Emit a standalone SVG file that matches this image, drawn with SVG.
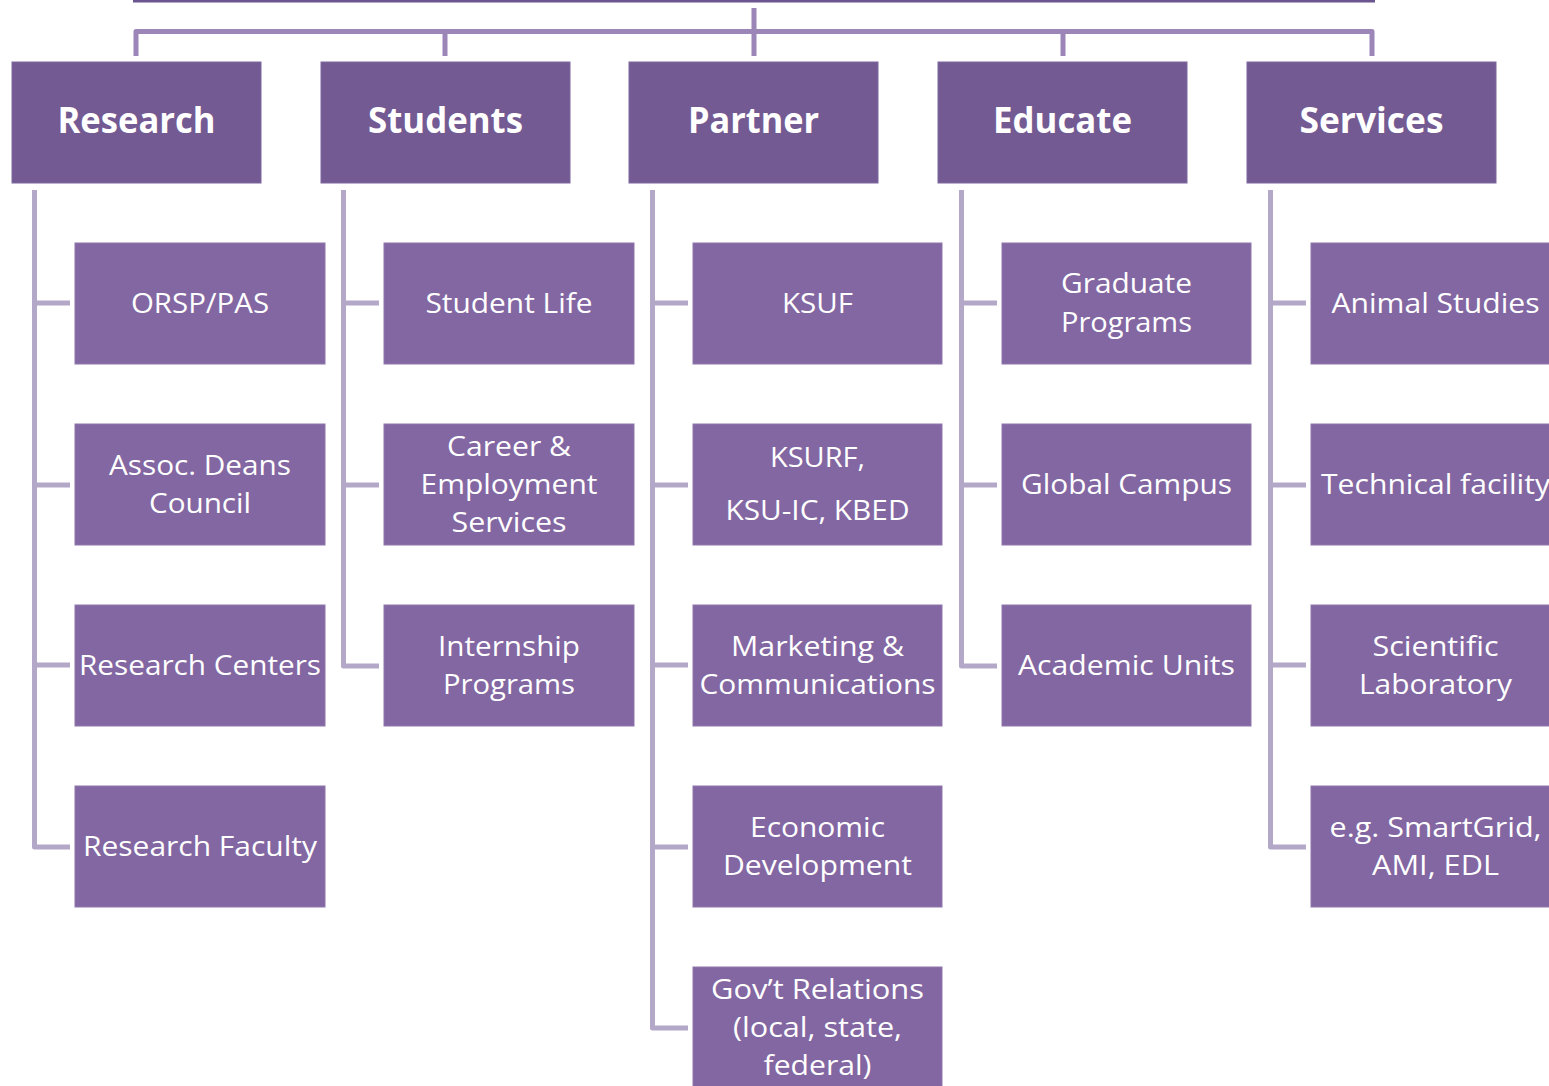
<svg xmlns="http://www.w3.org/2000/svg" width="1549" height="1086" viewBox="0 0 1549 1086">
<style>
.hdr{fill:#735A93;stroke:#7E68A0;stroke-width:1}
.chd{fill:#8367A2;stroke:#8F76AC;stroke-width:1}
.ht{font-family:"Open Sans","Noto Sans",sans-serif;font-weight:bold;font-size:36px;fill:#fff;text-anchor:middle}
.ct{font-family:"Open Sans","Noto Sans",sans-serif;font-size:27px;fill:#fff;text-anchor:middle}
.top{fill:none;stroke:#9B86B7;stroke-width:5;stroke-linejoin:round}
.sub{fill:none;stroke:#B3A8C8;stroke-width:5;stroke-linejoin:round}
</style>
<rect x="133" y="0" width="1242" height="2.5" fill="#6B5590"/>
<g id="connectors">
<path class="top" d="M136 56 V31.5 H1372 V56"/>
<path class="top" d="M754 8 V56 M445 31.5 V56 M1063 31.5 V56"/>
<path class="sub" d="M34.5 190 V847 H70 M34.5 303 H70 M34.5 485 H70 M34.5 665 H70"/>
<path class="sub" d="M343.5 190 V666 H379 M343.5 303 H379 M343.5 485 H379"/>
<path class="sub" d="M652.5 190 V1028 H688 M652.5 303 H688 M652.5 485 H688 M652.5 665 H688 M652.5 847 H688"/>
<path class="sub" d="M961.5 190 V666 H997 M961.5 303 H997 M961.5 485 H997"/>
<path class="sub" d="M1270.5 190 V847 H1306 M1270.5 303 H1306 M1270.5 485 H1306 M1270.5 665 H1306"/>
</g>
<g id="research"><rect class="hdr" x="12" y="62" width="249" height="121"/><text class="ht" x="136.5" y="133" textLength="158" lengthAdjust="spacingAndGlyphs">Research</text></g>
<g id="students"><rect class="hdr" x="321" y="62" width="249" height="121"/><text class="ht" x="445.5" y="133" textLength="155" lengthAdjust="spacingAndGlyphs">Students</text></g>
<g id="partner"><rect class="hdr" x="629" y="62" width="249" height="121"/><text class="ht" x="753.5" y="133" textLength="131" lengthAdjust="spacingAndGlyphs">Partner</text></g>
<g id="educate"><rect class="hdr" x="938" y="62" width="249" height="121"/><text class="ht" x="1062.5" y="133" textLength="139" lengthAdjust="spacingAndGlyphs">Educate</text></g>
<g id="services"><rect class="hdr" x="1247" y="62" width="249" height="121"/><text class="ht" x="1371.5" y="133" textLength="144" lengthAdjust="spacingAndGlyphs">Services</text></g>

<g id="orsp"><rect class="chd" x="75" y="243" width="250" height="121"/><text class="ct" x="200" y="313" textLength="138" lengthAdjust="spacingAndGlyphs">ORSP/PAS</text></g>
<g id="assoc"><rect class="chd" x="75" y="424" width="250" height="121"/><text class="ct" x="200" y="475" textLength="182" lengthAdjust="spacingAndGlyphs">Assoc. Deans</text><text class="ct" x="200" y="513" textLength="102" lengthAdjust="spacingAndGlyphs">Council</text></g>
<g id="rcenters"><rect class="chd" x="75" y="605" width="250" height="121"/><text class="ct" x="200" y="675" textLength="242" lengthAdjust="spacingAndGlyphs">Research Centers</text></g>
<g id="rfaculty"><rect class="chd" x="75" y="786" width="250" height="121"/><text class="ct" x="200" y="856" textLength="234" lengthAdjust="spacingAndGlyphs">Research Faculty</text></g>

<g id="slife"><rect class="chd" x="384" y="243" width="250" height="121"/><text class="ct" x="509" y="313" textLength="167" lengthAdjust="spacingAndGlyphs">Student Life</text></g>
<g id="career"><rect class="chd" x="384" y="424" width="250" height="121"/><text class="ct" x="509" y="456" textLength="124" lengthAdjust="spacingAndGlyphs">Career &amp;</text><text class="ct" x="509" y="494" textLength="177" lengthAdjust="spacingAndGlyphs">Employment</text><text class="ct" x="509" y="532" textLength="115" lengthAdjust="spacingAndGlyphs">Services</text></g>
<g id="intern"><rect class="chd" x="384" y="605" width="250" height="121"/><text class="ct" x="509" y="656" textLength="142" lengthAdjust="spacingAndGlyphs">Internship</text><text class="ct" x="509" y="694" textLength="132" lengthAdjust="spacingAndGlyphs">Programs</text></g>

<g id="ksuf"><rect class="chd" x="693" y="243" width="249" height="121"/><text class="ct" x="817.5" y="313" textLength="71" lengthAdjust="spacingAndGlyphs">KSUF</text></g>
<g id="ksurf"><rect class="chd" x="693" y="424" width="249" height="121"/><text class="ct" x="817.5" y="467" textLength="95" lengthAdjust="spacingAndGlyphs">KSURF,</text><text class="ct" x="817.5" y="520" textLength="184" lengthAdjust="spacingAndGlyphs">KSU-IC, KBED</text></g>
<g id="marketing"><rect class="chd" x="693" y="605" width="249" height="121"/><text class="ct" x="817.5" y="656" textLength="173" lengthAdjust="spacingAndGlyphs">Marketing &amp;</text><text class="ct" x="817.5" y="694" textLength="236" lengthAdjust="spacingAndGlyphs">Communications</text></g>
<g id="econ"><rect class="chd" x="693" y="786" width="249" height="121"/><text class="ct" x="817.5" y="837" textLength="135" lengthAdjust="spacingAndGlyphs">Economic</text><text class="ct" x="817.5" y="875" textLength="189" lengthAdjust="spacingAndGlyphs">Development</text></g>
<g id="gov"><rect class="chd" x="693" y="967" width="249" height="125"/><text class="ct" x="817.5" y="999" textLength="213" lengthAdjust="spacingAndGlyphs">Gov’t Relations</text><text class="ct" x="817.5" y="1037" textLength="169" lengthAdjust="spacingAndGlyphs">(local, state,</text><text class="ct" x="817.5" y="1075" textLength="108" lengthAdjust="spacingAndGlyphs">federal)</text></g>

<g id="grad"><rect class="chd" x="1002" y="243" width="249" height="121"/><text class="ct" x="1126.5" y="293" textLength="131" lengthAdjust="spacingAndGlyphs">Graduate</text><text class="ct" x="1126.5" y="332" textLength="131" lengthAdjust="spacingAndGlyphs">Programs</text></g>
<g id="global"><rect class="chd" x="1002" y="424" width="249" height="121"/><text class="ct" x="1126.5" y="494" textLength="211" lengthAdjust="spacingAndGlyphs">Global Campus</text></g>
<g id="academic"><rect class="chd" x="1002" y="605" width="249" height="121"/><text class="ct" x="1126.5" y="675" textLength="217" lengthAdjust="spacingAndGlyphs">Academic Units</text></g>

<g id="animal"><rect class="chd" x="1311" y="243" width="249" height="121"/><text class="ct" x="1435.5" y="313" textLength="208" lengthAdjust="spacingAndGlyphs">Animal Studies</text></g>
<g id="technical"><rect class="chd" x="1311" y="424" width="249" height="121"/><text class="ct" x="1435.5" y="494" textLength="229" lengthAdjust="spacingAndGlyphs">Technical facility</text></g>
<g id="scientific"><rect class="chd" x="1311" y="605" width="249" height="121"/><text class="ct" x="1435.5" y="656" textLength="126" lengthAdjust="spacingAndGlyphs">Scientific</text><text class="ct" x="1435.5" y="694" textLength="153" lengthAdjust="spacingAndGlyphs">Laboratory</text></g>
<g id="smartgrid"><rect class="chd" x="1311" y="786" width="249" height="121"/><text class="ct" x="1435.5" y="837" textLength="212" lengthAdjust="spacingAndGlyphs">e.g. SmartGrid,</text><text class="ct" x="1435.5" y="875" textLength="127" lengthAdjust="spacingAndGlyphs">AMI, EDL</text></g>
</svg>
